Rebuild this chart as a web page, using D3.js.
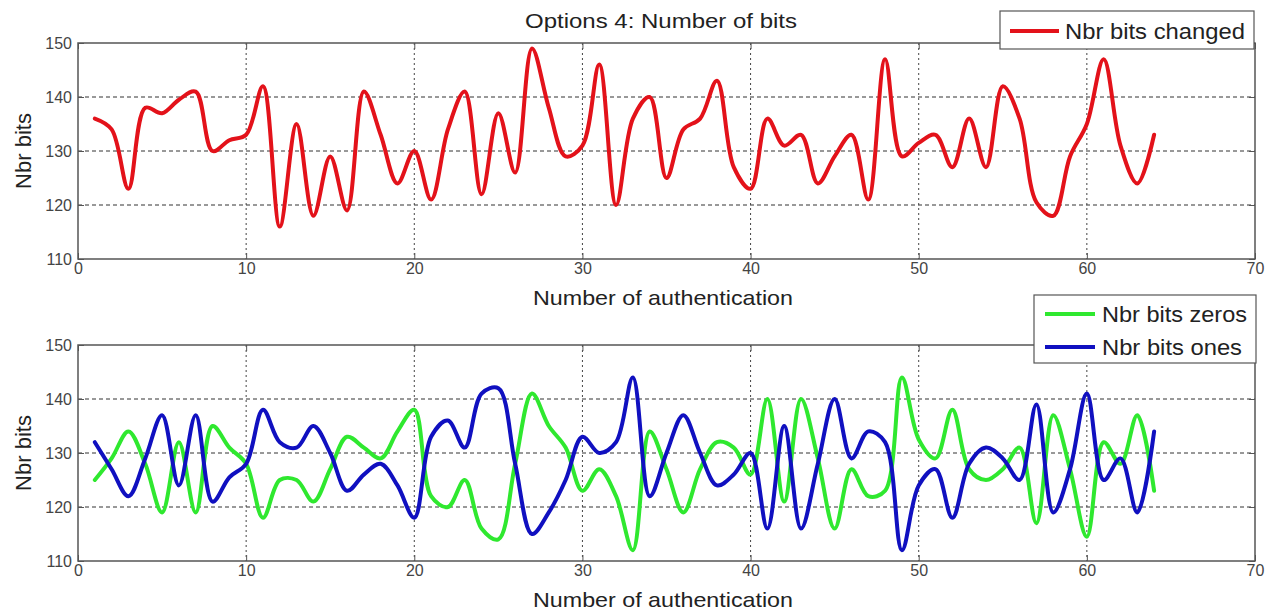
<!DOCTYPE html>
<html>
<head>
<meta charset="utf-8">
<script src="https://cdn.jsdelivr.net/npm/d3@7"></script>
<style>
  html, body { margin: 0; padding: 0; background: #fff; }
  svg { display: block; }
  text { font-family: "Liberation Sans", Arial, Helvetica, sans-serif; }
</style>
</head>
<body>
<svg id="chart" width="1270" height="614"></svg>
<script>
// ---- data ----
const authNumbers = d3.range(1, 65);
const bitsChanged = [136,134,123,138,137,139.5,141,130,132,133,
                     142,116,135,118,129,119,141,133,124,130,
                     121,134,141,122,137,126,149,138,129,131,
                     146,120,136,140,125,134,136,143,127,123,
                     136,131,133,124,129,133,121,147,129,131.5,
                     133,127,136,127,142,136,120.5,118,129,135,
                     147,131,124,133];
const bitsZeros = [125,129,134,128,119,132,119,135,131,128,
                   118,125,125,121,127,133,131,129,134,138,
                   122,120,125,116,114,128,141,135,131,123,
                   127,122,112,134,127,119,127,132,131,126,
                   140,121,140,129,116,127,122,123,144,132.5,
                   129,138,127,125,127,131,117,137,127,114.5,
                   132,128,137,123];
const bitsOnes = [132,127,122,129,137,124,137,121,125.5,128,
                  138,132,131,135,130,123,126,128,124,118,
                  133,136,131,141,142,128,115,119,125,133,
                  130,132,144,122,130,137,130,124,126,130,
                  116,135,116,128,140,129,134,132,112,124,
                  127,118,128,131,129,125,139,119,127,141,
                  125,129,119,134];
const xTicks = [0,10,20,30,40,50,60,70];
const yTicks = [110,120,130,140,150];
const titleText = "Options 4: Number of bits";
const xLabelText = "Number of authentication";
const yLabelText = "Nbr bits";
const legendTop = ["Nbr bits changed"];
const legendBottom = ["Nbr bits zeros", "Nbr bits ones"];

// ---- styles ----
const RED = "#e3121a", GREEN = "#2fe82f", BLUE = "#1010c0";
const svg = d3.select("#chart");
const FONT_AX = "#444";

const x = d3.scaleLinear().domain([0, 70]).range([78, 1255]);

function panel(top, bottom, series) {
  const y = d3.scaleLinear().domain([110, 150]).range([bottom, top]);
  const g = svg.append("g");
  // grid
  g.selectAll(".hg").data(yTicks.filter(t => t > 110 && t < 150)).join("line")
    .attr("x1", x(0)).attr("x2", x(70))
    .attr("y1", d => y(d)).attr("y2", d => y(d))
    .attr("stroke", "#333").attr("stroke-width", 1).attr("stroke-dasharray", "4,3");
  g.selectAll(".vg").data(xTicks.filter(t => t > 0 && t < 70)).join("line")
    .attr("x1", d => x(d)).attr("x2", d => x(d))
    .attr("y1", top).attr("y2", bottom)
    .attr("stroke", "#444").attr("stroke-width", 1).attr("stroke-dasharray", "2,3");
  // box
  g.append("rect").attr("x", x(0)).attr("y", top)
    .attr("width", x(70) - x(0)).attr("height", bottom - top)
    .attr("fill", "none").attr("stroke", "#555").attr("stroke-width", 1.5);
  // inward ticks via axes
  const axB = d3.axisBottom(x).tickValues(xTicks).tickSize(-6).tickFormat(d => d);
  const axT = d3.axisTop(x).tickValues(xTicks).tickSize(-6).tickFormat("");
  const axL = d3.axisLeft(y).tickValues(yTicks).tickSize(-6).tickFormat(d => d);
  const axR = d3.axisRight(y).tickValues(yTicks).tickSize(-6).tickFormat("");
  const gb = g.append("g").attr("transform", `translate(0,${bottom})`).call(axB);
  const gt = g.append("g").attr("transform", `translate(0,${top})`).call(axT);
  const gl = g.append("g").attr("transform", `translate(${x(0)},0)`).call(axL);
  const gr = g.append("g").attr("transform", `translate(${x(70)},0)`).call(axR);
  [gb, gt, gl, gr].forEach(a => {
    a.attr("font-size", null).attr("font-family", null);
    a.select(".domain").remove();
    a.selectAll(".tick line").attr("stroke", "#555");
    a.selectAll("text").attr("fill", FONT_AX).style("font-size", "16px")
      .style("font-family", "'Liberation Sans', Arial, sans-serif");
  });
  gb.selectAll("text").attr("y", 4).attr("dy", "0.71em");
  gl.selectAll("text").attr("x", -6);
  // lines
  const line = d3.line().x((d, i) => x(authNumbers[i])).y(d => y(d))
    .curve(d3.curveCatmullRom.alpha(0.5));
  series.forEach(s => {
    g.append("path").datum(s.values).attr("d", line)
      .attr("fill", "none").attr("stroke", s.color).attr("stroke-width", 4)
      .attr("stroke-linejoin", "round").attr("stroke-linecap", "round");
  });
  // y label
  g.append("text").attr("transform", `translate(31,${(top + bottom) / 2}) rotate(-90)`)
    .attr("text-anchor", "middle").attr("fill", "#222").style("font-size", "22px")
    .text(yLabelText);
  // x label
  g.append("text").attr("x", 663).attr("y", bottom + 46)
    .attr("text-anchor", "middle").attr("fill", "#222").style("font-size", "21px")
    .attr("textLength", 260).attr("lengthAdjust", "spacingAndGlyphs")
    .text(xLabelText);
  return y;
}

panel(43, 259, [{values: bitsChanged, color: RED}]);
panel(345, 561, [{values: bitsZeros, color: GREEN}, {values: bitsOnes, color: BLUE}]);

// title
svg.append("text").attr("x", 661).attr("y", 28).attr("text-anchor", "middle")
  .attr("fill", "#222").style("font-size", "20px")
  .attr("textLength", 272).attr("lengthAdjust", "spacingAndGlyphs")
  .text(titleText);

// legends
function legend(x0, y0, w, h, items, colors, rowY, lineX1, lineX2, textX, lens) {
  const g = svg.append("g");
  g.append("rect").attr("x", x0).attr("y", y0).attr("width", w).attr("height", h)
    .attr("fill", "#fff").attr("stroke", "#555").attr("stroke-width", 1.2);
  items.forEach((t, i) => {
    g.append("line").attr("x1", lineX1).attr("x2", lineX2)
      .attr("y1", rowY[i]).attr("y2", rowY[i])
      .attr("stroke", colors[i]).attr("stroke-width", 4);
    g.append("text").attr("x", textX).attr("y", rowY[i]).attr("dy", "0.36em")
      .attr("fill", "#222").style("font-size", "22px")
      .attr("textLength", lens[i]).attr("lengthAdjust", "spacingAndGlyphs").text(t);
  });
}
legend(1000, 11, 254, 38, legendTop, [RED], [31], 1010, 1059, 1065, [180]);
legend(1034, 295, 222, 68, legendBottom, [GREEN, BLUE], [314, 347], 1045, 1095, 1102, [145, 140]);
</script>
</body>
</html>
